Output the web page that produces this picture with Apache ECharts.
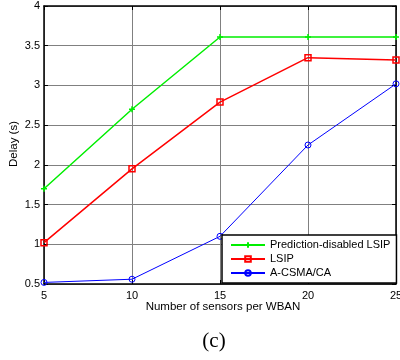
<!DOCTYPE html>
<html>
<head>
<meta charset="utf-8">
<style>
  html, body { margin: 0; padding: 0; background: #ffffff; }
  #chart { width: 400px; height: 360px; }
</style>
<script src="https://cdn.jsdelivr.net/npm/echarts@6/dist/echarts.min.js"></script>
</head>
<body>
<div id="chart"></div>
<script>
// Sensors per WBAN (x values)
const sensors = [5, 10, 15, 20, 25];
// Delay in seconds for each scheme
const predictionDisabledLSIP = [1.70, 2.70, 3.61, 3.61, 3.61];
const lsip = [1.02, 1.95, 2.79, 3.35, 3.32];
const aCsmaCa = [0.52, 0.56, 1.10, 2.25, 3.02];
// Axis ticks
const xTicks = { min: 5, max: 25, step: 5 };
const yTicks = { min: 0.5, max: 4, step: 0.5 };

const FONT = '"Liberation Sans", Arial, sans-serif';
const pairs = (ys) => sensors.map((x, i) => [x, ys[i]]);

const chart = echarts.init(document.getElementById('chart'), null, { renderer: 'canvas' });

const gridLine = { show: true, lineStyle: { color: '#808080', width: 1 } };
const tickIn = { show: true, inside: true, length: 4, lineStyle: { color: '#000', width: 1 } };
const axisLine = { show: true, lineStyle: { color: '#000', width: 1.5 } };

chart.setOption({
  animation: false,
  backgroundColor: '#ffffff',
  grid: { left: 44, right: 4, top: 6, bottom: 76, show: false, containLabel: false, outerBoundsMode: 'none' },
  xAxis: [
    {
      type: 'value', min: xTicks.min, max: xTicks.max, interval: xTicks.step,
      position: 'bottom',
      axisLine, axisTick: tickIn, splitLine: gridLine,
      axisLabel: { color: '#000', fontFamily: FONT, fontSize: 11, margin: 6, hideOverlap: false }
    },
    {
      type: 'value', min: xTicks.min, max: xTicks.max, interval: xTicks.step,
      position: 'top',
      axisLine, axisTick: tickIn, splitLine: { show: false },
      axisLabel: { show: false }
    }
  ],
  yAxis: [
    {
      type: 'value', min: yTicks.min, max: yTicks.max, interval: yTicks.step,
      position: 'left',
      axisLine, axisTick: tickIn, splitLine: gridLine,
      axisLabel: { color: '#000', fontFamily: FONT, fontSize: 11, margin: 4 }
    },
    {
      type: 'value', min: yTicks.min, max: yTicks.max, interval: yTicks.step,
      position: 'right',
      axisLine, axisTick: tickIn, splitLine: { show: false },
      axisLabel: { show: false }
    }
  ],
  legend: {
    orient: 'vertical',
    left: 222, top: 235,
    padding: [3, 6, 3, 8],
    itemGap: 0,
    itemWidth: 34, itemHeight: 7,
    backgroundColor: '#ffffff',
    borderColor: '#000', borderWidth: 1.5,
    textStyle: { color: '#000', fontFamily: FONT, fontSize: 11, lineHeight: 14 },
    data: ['Prediction-disabled LSIP', 'LSIP', 'A-CSMA/CA']
  },
  series: [
    {
      name: 'Prediction-disabled LSIP', type: 'line',
      data: pairs(predictionDisabledLSIP),
      symbol: 'path://M0,5 L10,5 M5,0 L5,10', symbolSize: 6,
      lineStyle: { color: '#00ee00', width: 1.5 },
      itemStyle: { color: 'rgba(0,0,0,0)', borderColor: '#00ee00', borderWidth: 1.5 },
      z: 3
    },
    {
      name: 'LSIP', type: 'line',
      data: pairs(lsip),
      symbol: 'rect', symbolSize: 6,
      lineStyle: { color: '#ff0000', width: 1.5 },
      itemStyle: { color: 'rgba(0,0,0,0)', borderColor: '#ff0000', borderWidth: 1.5 },
      z: 3
    },
    {
      name: 'A-CSMA/CA', type: 'line',
      data: pairs(aCsmaCa),
      symbol: 'circle', symbolSize: 6,
      lineStyle: { color: '#0000ff', width: 1 },
      itemStyle: { color: 'rgba(0,0,0,0)', borderColor: '#0000ff', borderWidth: 1 },
      z: 3
    }
  ],
  graphic: [
    {
      type: 'text', x: 14, y: 144, rotation: Math.PI / 2,
      style: { text: 'Delay (s)', fill: '#000', font: '11.5px ' + FONT, textAlign: 'center', textVerticalAlign: 'middle' }
    },
    {
      type: 'text', x: 223, y: 307,
      style: { text: 'Number of sensors per WBAN', fill: '#000', font: '11.5px ' + FONT, textAlign: 'center', textVerticalAlign: 'middle' }
    },
    {
      type: 'text', x: 214, y: 341,
      style: { text: '(c)', fill: '#000', font: '21px "Liberation Serif", "Times New Roman", serif', textAlign: 'center', textVerticalAlign: 'middle' }
    }
  ]
});
</script>
</body>
</html>
